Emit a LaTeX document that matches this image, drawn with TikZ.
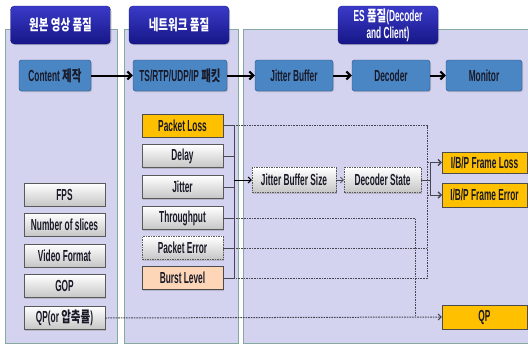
\documentclass[tikz,border=0pt]{standalone}
\usepackage{fontspec}
\usepackage{graphicx}
\setmainfont[FakeStretch=0.52]{Liberation Sans}
\newfontfamily\kr{Noto Sans CJK KR}
\usepackage{xcolor}
\usepackage{tikz}
\usetikzlibrary{arrows.meta}
\usetikzlibrary{shadows}
\definecolor{panelbg}{RGB}{211,211,240}
\definecolor{panelrule}{RGB}{135,170,160}
\definecolor{headtop}{RGB}{58,58,200}
\definecolor{headbot}{RGB}{22,22,135}
\definecolor{flowbg}{RGB}{74,134,196}
\definecolor{flowrule}{RGB}{40,78,130}
\definecolor{lossbg}{RGB}{255,192,0}
\definecolor{burstbg}{RGB}{252,214,182}
\definecolor{ink}{RGB}{25,25,40}
\definecolor{wire}{RGB}{70,70,80}
\newcommand\hg[1]{\scalebox{.7}[1]{\kr\fontsize{15}{17}\selectfont #1}}
\tikzstyle{panel}=[draw=panelrule,fill=panelbg,line width=.8pt]
\tikzstyle{boxbase}=[rectangle,font=\bfseries\fontsize{16}{17}\selectfont,text=ink,inner sep=1pt,drop shadow={shadow xshift=1pt,shadow yshift=-1.2pt,opacity=.35}]
\tikzstyle{head}=[boxbase,draw=headbot,top color=headtop,bottom color=headbot,rounded corners=4pt,text=white,minimum width=100pt,minimum height=38pt,align=center]
\tikzstyle{flow}=[boxbase,draw=flowrule,fill=flowbg,rounded corners=2.5pt,minimum height=31pt]
\tikzstyle{item}=[boxbase,draw=gray!70!black,top color=white,bottom color=gray!45,minimum width=81pt,minimum height=23pt]
\tikzstyle{hot}=[boxbase,draw=gray!60!black,fill=lossbg,minimum width=85pt,minimum height=23pt]
\tikzstyle{guess}=[item,dash pattern=on 1.5pt off 1pt]
\tikzstyle{go}=[line width=2pt,-{Straight Barb[length=4pt,width=8pt]}]
\tikzstyle{feed}=[draw=wire,line width=1pt]
\tikzstyle{cue}=[draw=wire,line width=1pt,dash pattern=on 1.6pt off 1pt]
\tikzstyle{tip}=[-{Straight Barb[length=3pt,width=6pt]}]

\begin{document}
\begin{tikzpicture}[x=1pt,y=-1pt]
	\useasboundingbox[fill=white] (0,0) rectangle (528,346);
	% panels
	\draw[panel] (5,29) rectangle (117,343);
	\draw[panel] (124,29) rectangle (238,343);
	\draw[panel] (243,29) rectangle (534,343);
	\node[head] (hsrc) at (60.5,25) {\hg{원본 영상 품질}};
	\node[head] (hnet) at (179,25) {\hg{네트워크 품질}};
	\node[head] (hes) at (388,25) {ES \hg{품질}(Decoder\\and Client)};
	% main flow
	\node[flow,minimum width=72pt] (make) at (55,75.5) {Content \hg{제작}};
	\node[flow,minimum width=94pt] (pkt) at (180,75.5) {TS/RTP/UDP/IP \hg{패킷}};
	\node[flow,minimum width=78pt] (jbuf) at (294,75.5) {Jitter Buffer};
	\node[flow,minimum width=78pt] (dec) at (391,75.5) {Decoder};
	\node[flow,minimum width=76pt] (mon) at (484,75.5) {Monitor};
	\draw[go] (make) -- (pkt);
	\draw[go] (pkt) -- (jbuf);
	\draw[go] (jbuf) -- (dec);
	\draw[go] (dec) -- (mon);
	% source parameters
	\node[item] (fps) at (64.5,194.5) {FPS};
	\node[item] (slices) at (64.5,224.5) {Number of slices};
	\node[item] (vfmt) at (64.5,255.5) {Video Format};
	\node[item] (gop) at (64.5,286) {GOP};
	\node[item] (qpsrc) at (64.5,318) {QP(or \hg{압축률})};
	% network parameters
	\node[hot,minimum width=81pt] (ploss) at (182.5,125.5) {Packet Loss};
	\node[item] (delay) at (182.5,156) {Delay};
	\node[item] (jit) at (182.5,187) {Jitter};
	\node[item] (thru) at (182.5,218) {Throughput};
	\node[guess] (perr) at (182.5,248) {Packet Error};
	\node[hot,minimum width=81pt,fill=burstbg] (burst) at (182.5,278) {Burst Level};
	% es parameters
	\node[guess,minimum width=84pt,minimum height=25pt] (jbsz) at (294,180) {Jitter Buffer Size};
	\node[guess,minimum width=77pt,minimum height=25pt] (dstate) at (382.5,180) {Decoder State};
	\node[hot,minimum height=21pt] (floss) at (484.5,162.5) {I/B/P Frame Loss};
	\node[hot,minimum height=24pt] (ferr) at (484.5,195) {I/B/P Frame Error};
	\node[hot,minimum height=24pt] (qp) at (484.5,317) {QP};
	\coordinate (bus) at (234,0);
	\coordinate (lossbus) at (427,0);
	\coordinate (qpbus) at (415,0);
	\coordinate (split) at (430,0);
	% dotted links
	\draw[cue] (ploss.east) -| (lossbus |- burst.east) -- (burst.east);
	\draw[cue] (perr.east) -- (perr.east -| lossbus);
	\draw[cue,tip] (floss.west -| lossbus) -- (floss.west);
	\draw[cue,tip] (ferr.west -| lossbus) -- (ferr.west);
	\draw[cue] (thru.east) -| (qpbus |- qp.west);
	\draw[cue,tip] (qpsrc.east) -- (qp.west);
	% solid links
	\foreach \n in {ploss,delay,jit,thru,perr,burst}
		\draw[feed] (\n.east) -- (\n.east -| bus);
	\draw[feed] (ploss.east -| bus) -- (burst.east -| bus);
	\draw[feed,tip,draw=black] (jbsz.west -| bus) -- (jbsz.west);
	\draw[feed,tip,line width=.6pt] (jbsz) -- (dstate);
	\draw[feed] (dstate.east) -- (dstate.east -| split);
	\draw[feed,tip] (dstate.east -| split) |- (floss.west);
	\draw[feed,tip] (dstate.east -| split) |- (ferr.west);
\end{tikzpicture}
\end{document}
